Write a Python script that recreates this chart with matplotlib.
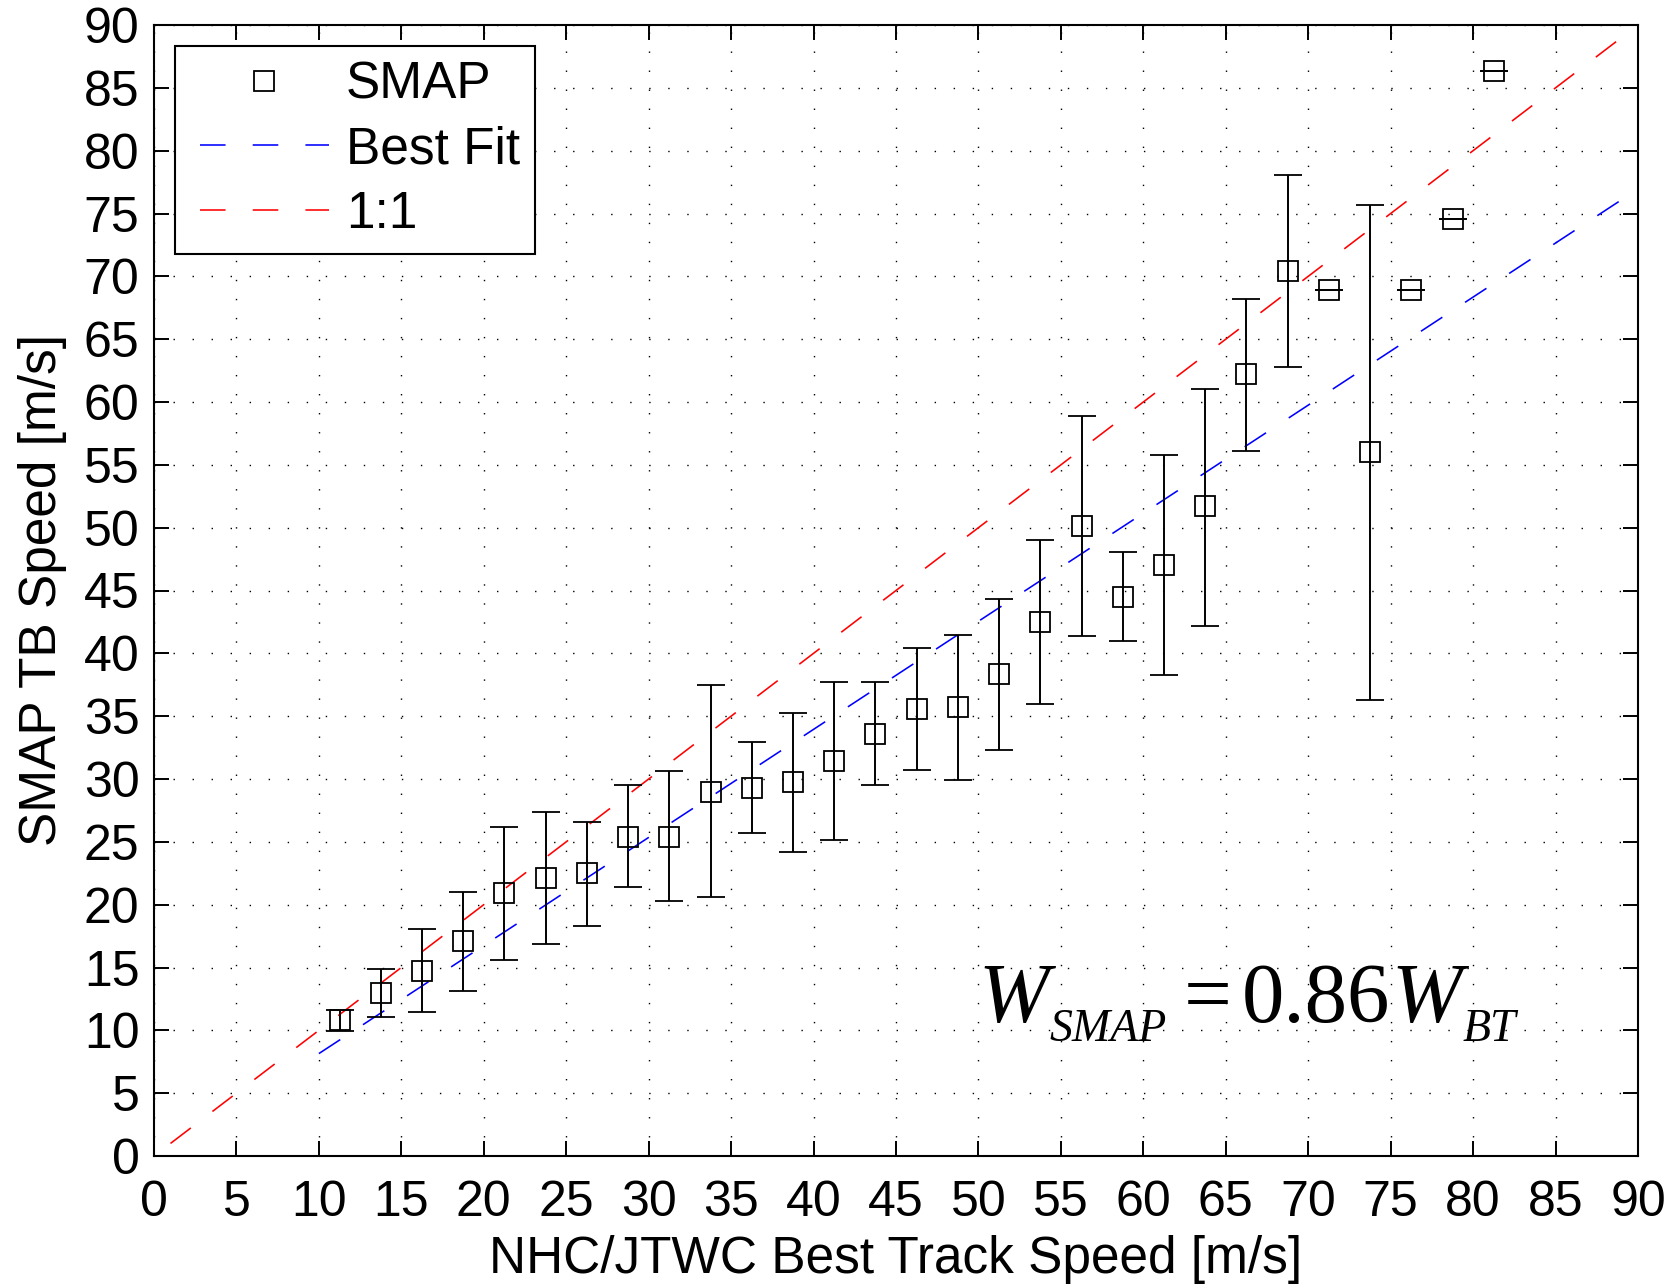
import matplotlib
matplotlib.use("Agg")
import matplotlib.pyplot as plt
from matplotlib.lines import Line2D
from matplotlib.legend_handler import HandlerLine2D
import numpy as np

plt.rcParams['font.family'] = ['Liberation Sans', 'DejaVu Sans']

# Data
bt_speed = [11.25, 13.75, 16.25, 18.75, 21.25, 23.75, 26.25, 28.75, 31.25, 33.75,
            36.25, 38.75, 41.25, 43.75, 46.25, 48.75, 51.25, 53.75, 56.25, 58.75,
            61.25, 63.75, 66.25, 68.75, 71.25, 73.75, 76.25, 78.75, 81.25]
smap_speed = [10.8, 12.95, 14.75, 17.1, 20.9, 22.1, 22.5, 25.4, 25.4, 29.0,
              29.3, 29.8, 31.4, 33.6, 35.6, 35.7, 38.35, 42.5, 50.1, 44.5,
              47.0, 51.7, 62.2, 70.4, 68.9, 56.0, 68.9, 74.6, 86.3]
err_upper = [11.6, 14.86, 18.04, 21.03, 26.2, 27.4, 26.6, 29.5, 30.6, 37.5,
             32.97, 35.28, 37.69, 37.69, 40.45, 41.46, 44.35, 49.02, 58.91, 48.04,
             55.81, 61.0, 68.2, 78.03, 68.9, 75.67, 68.9, 74.6, 86.3]
err_lower = [9.97, 11.09, 11.49, 13.16, 15.6, 16.87, 18.33, 21.4, 20.3, 20.6,
             25.68, 24.22, 25.14, 29.52, 30.69, 29.92, 32.31, 35.99, 41.35, 41.0,
             38.27, 42.2, 56.1, 62.81, 68.9, 36.28, 68.9, 74.6, 86.3]

fit_slope = 0.86
fit_intercept = -0.45
fit_x = [10, 90]
one_x = [1, 90]
ticks = list(range(0, 91, 5))
legend_labels = ['SMAP', 'Best Fit', '1:1']

x = np.array(bt_speed)
y = np.array(smap_speed)
yerr = np.vstack([y - np.array(err_lower), np.array(err_upper) - y])

W, H = 1671, 1285
fig = plt.figure(figsize=(W / 100, H / 100), dpi=100)
ax = fig.add_axes([154 / W, 1 - 1156 / H, (1638 - 154) / W, (1156 - 25) / H])

dash = (0, (16, 17))
ax.errorbar(x, y, yerr=yerr, fmt='s', color='black', mfc='none', mec='black',
            ms=14, mew=1.3, elinewidth=1.4, capsize=10, capthick=1.4,
            ecolor='black', zorder=3)
fx = np.array(fit_x, dtype=float)
ax.plot(fx, fit_slope * fx + fit_intercept, color=(0, 0, 1), lw=1.15,
        linestyle=dash, zorder=2)
ox = np.array(one_x, dtype=float)
ax.plot(ox, ox, color=(1, 0, 0), lw=1.15, linestyle=dash, zorder=2)

ax.set_xlim(0, 90)
ax.set_ylim(0, 90)
ax.set_xticks(ticks)
ax.set_yticks(ticks)
ax.tick_params(direction='in', length=11, width=1.4, labelsize=36,
               top=True, right=True)
ax.tick_params(axis='x', pad=17)
ax.tick_params(axis='y', pad=10.5)
for s in ax.spines.values():
    s.set_linewidth(1.5)
ax.grid(True, color='black', linestyle=(0, (1, 12.7)), linewidth=1.0)

ax.set_xlabel('NHC/JTWC Best Track Speed [m/s]', fontsize=37, labelpad=7)
ax.set_ylabel('SMAP TB Speed [m/s]', fontsize=37, labelpad=12)

h_smap = Line2D([], [], marker='s', ls='none', mfc='none', mec='black', ms=14, mew=1.3)
h_fit = Line2D([], [], color=(0, 0, 1), lw=1.15, linestyle=dash)
h_one = Line2D([], [], color=(1, 0, 0), lw=1.15, linestyle=dash)
leg = ax.legend([h_smap, h_fit, h_one], legend_labels,
                loc='upper left', fontsize=37, frameon=True, fancybox=False,
                edgecolor='black', framealpha=1, handlelength=2.7,
                handletextpad=0.33, labelspacing=0.3, borderpad=0.3,
                borderaxespad=0.4,
                handler_map={Line2D: HandlerLine2D(xpad=0.2)})
leg.get_frame().set_linewidth(1.5)

# equation, placed piece by piece (pixel positions from top-left)
serif = ['Liberation Serif', 'DejaVu Serif']
renderer = fig.canvas.get_renderer()
pieces = [(978, 1022, 'W', 61, 'italic'),
          (1040, 1041, 'SMAP', 33, 'italic'),
          (1184, 1022, '=', 61, 'normal'),
          (1242, 1022, '0.86', 61, 'normal'),
          (1390, 1022, 'W', 61, 'italic'),
          (1450, 1041, 'BT', 33, 'italic')]
prev_x1 = 0
for px, py, s, size, style in pieces:
    left = max(px, prev_x1 + 1)
    t = fig.text(left / W, 1 - py / H, s, fontsize=size, family=serif,
                 style=style, ha='left', va='baseline', zorder=5)
    bb = t.get_window_extent(renderer)
    prev_x1 = bb.x1

fig.savefig('out.png', dpi=100)
